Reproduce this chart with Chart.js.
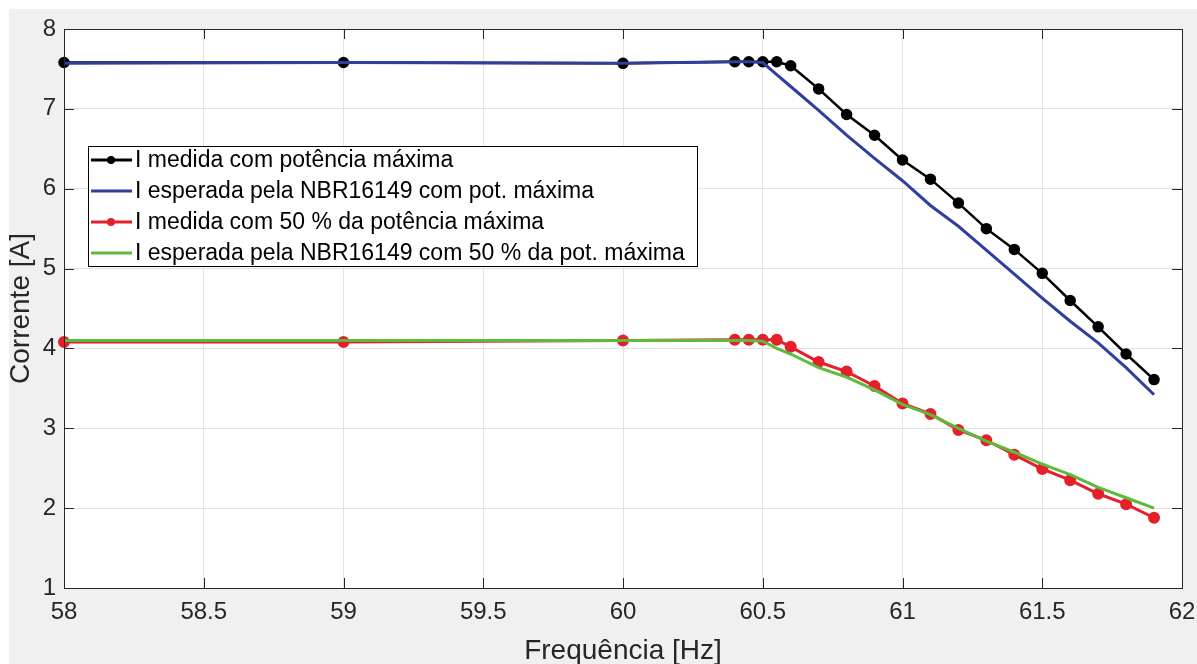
<!DOCTYPE html>
<html>
<head>
<meta charset="utf-8">
<script src="https://cdn.jsdelivr.net/npm/chart.js"></script>
<style>
  html, body { margin: 0; padding: 0; background: #fff; }
  #wrap { width: 1197px; height: 664px; position: relative; }
</style>
</head>
<body>
<div id="wrap"><canvas id="c" width="1197" height="664"></canvas></div>
<script>
// frequências medidas [Hz]
const freq = [58, 59, 60, 60.4, 60.45, 60.5, 60.55, 60.6, 60.7, 60.8, 60.9,
              61.0, 61.1, 61.2, 61.3, 61.4, 61.5, 61.6, 61.7, 61.8, 61.9];

// correntes [A]
const iMedidaMax = [7.58, 7.58, 7.57, 7.59, 7.59, 7.59, 7.59, 7.54, 7.25, 6.93, 6.67,
                    6.36, 6.12, 5.82, 5.50, 5.24, 4.94, 4.60, 4.27, 3.93, 3.61];
const iEsperadaMax = [7.57, 7.58, 7.57, 7.59, 7.59, 7.58, 7.43, 7.28, 6.98, 6.67, 6.38,
                      6.10, 5.79, 5.53, 5.23, 4.93, 4.63, 4.34, 4.07, 3.76, 3.42];
const iMedida50 = [4.08, 4.08, 4.10, 4.11, 4.11, 4.11, 4.11, 4.02, 3.83, 3.71, 3.53,
                   3.31, 3.18, 2.98, 2.85, 2.67, 2.49, 2.35, 2.18, 2.05, 1.88];
const iEsperada50 = [4.10, 4.10, 4.10, 4.10, 4.10, 4.09, 4.00, 3.93, 3.76, 3.64, 3.48,
                     3.30, 3.17, 3.00, 2.84, 2.70, 2.55, 2.42, 2.26, 2.13, 2.00];

const labels = [
    'I medida com potência máxima',
    'I esperada pela NBR16149 com pot. máxima',
    'I medida com 50 % da potência máxima',
    'I esperada pela NBR16149 com 50 % da pot. máxima'
];
const xTicks = [58, 58.5, 59, 59.5, 60, 60.5, 61, 61.5, 62];
const yTicks = [1, 2, 3, 4, 5, 6, 7, 8];

const FONT = "'Liberation Sans', Arial, Helvetica, sans-serif";
const TXT = '#262626';

function pts(ys) {
    return freq.map((f, i) => ({ x: f, y: ys[i] }));
}

// fundo cinza + área branca do gráfico
const bgPlugin = {
    id: 'bg',
    beforeDraw(chart) {
        const { ctx, width, height, chartArea: a } = chart;
        ctx.save();
        ctx.fillStyle = '#fff';
        ctx.fillRect(0, 0, width, height);
        ctx.fillStyle = '#f0f0f0';
        ctx.fillRect(9, 9, width - 9, height - 9);
        ctx.fillStyle = '#fff';
        ctx.fillRect(a.left, a.top, a.right - a.left, a.bottom - a.top);
        ctx.restore();
    }
};

// moldura com marcas para dentro (estilo MATLAB)
const framePlugin = {
    id: 'frame',
    afterDatasetsDraw(chart) {
        const { ctx, chartArea: a, scales } = chart;
        const len = 10;
        ctx.save();
        ctx.strokeStyle = TXT;
        ctx.lineWidth = 1;
        ctx.beginPath();
        xTicks.forEach(v => {
            const px = Math.round(scales.x.getPixelForValue(v)) + 0.5;
            ctx.moveTo(px, a.bottom); ctx.lineTo(px, a.bottom - len);
            ctx.moveTo(px, a.top); ctx.lineTo(px, a.top + len);
        });
        yTicks.forEach(v => {
            const py = Math.round(scales.y.getPixelForValue(v)) + 0.5;
            ctx.moveTo(a.left, py); ctx.lineTo(a.left + len, py);
            ctx.moveTo(a.right, py); ctx.lineTo(a.right - len, py);
        });
        ctx.stroke();
        ctx.strokeRect(Math.round(a.left) + 0.5, Math.round(a.top) + 0.5,
                       Math.round(a.right - a.left), Math.round(a.bottom - a.top));
        ctx.restore();
    }
};

// legenda dentro da área do gráfico
const legendPlugin = {
    id: 'boxLegend',
    afterDraw(chart) {
        const { ctx, chartArea: a } = chart;
        const x0 = a.left + 24, y0 = a.top + 117;
        const w = 609, h = 120, rowH = 31;
        ctx.save();
        ctx.fillStyle = '#fff';
        ctx.fillRect(x0, y0, w, h);
        ctx.strokeStyle = '#000';
        ctx.lineWidth = 1;
        ctx.strokeRect(x0 + 0.5, y0 + 0.5, w, h);
        ctx.font = '23px ' + FONT;
        ctx.textBaseline = 'middle';
        chart.data.datasets.forEach((ds, i) => {
            const y = y0 + 14 + i * rowH;
            ctx.strokeStyle = ds.borderColor;
            ctx.lineWidth = 3;
            ctx.beginPath();
            ctx.moveTo(x0 + 3, y);
            ctx.lineTo(x0 + 44, y);
            ctx.stroke();
            if (ds.pointRadius > 0) {
                ctx.fillStyle = ds.pointBackgroundColor;
                ctx.beginPath();
                ctx.arc(x0 + 23, y, 4, 0, Math.PI * 2);
                ctx.fill();
            }
            ctx.fillStyle = '#000';
            ctx.fillText(ds.label, x0 + 47, y + 1);
        });
        ctx.restore();
    }
};

const chart = new Chart(document.getElementById('c'), {
    type: 'line',
    data: {
        datasets: [
            {
                label: labels[0],
                data: pts(iMedidaMax),
                borderColor: '#000000',
                backgroundColor: '#000000',
                pointBackgroundColor: '#000000',
                pointBorderColor: '#000000',
                borderWidth: 2.5,
                pointRadius: 4.5,
                order: 4
            },
            {
                label: labels[1],
                data: pts(iEsperadaMax),
                borderColor: '#2e3f9e',
                backgroundColor: '#2e3f9e',
                borderWidth: 3,
                pointRadius: 0,
                order: 3
            },
            {
                label: labels[2],
                data: pts(iMedida50),
                borderColor: '#e5202a',
                backgroundColor: '#e5202a',
                pointBackgroundColor: '#e5202a',
                pointBorderColor: '#e5202a',
                borderWidth: 3,
                pointRadius: 4.5,
                order: 2
            },
            {
                label: labels[3],
                data: pts(iEsperada50),
                borderColor: '#5cba3c',
                backgroundColor: '#5cba3c',
                borderWidth: 3,
                pointRadius: 0,
                order: 1
            }
        ]
    },
    options: {
        responsive: false,
        maintainAspectRatio: false,
        animation: false,
        devicePixelRatio: 1,
        layout: { padding: { left: 0, top: 29, right: 15, bottom: 0 } },
        elements: { line: { tension: 0 } },
        datasets: { line: { clip: 8 } },
        plugins: {
            legend: { display: false },
            tooltip: { enabled: false }
        },
        scales: {
            x: {
                type: 'linear',
                min: 58,
                max: 62,
                afterBuildTicks: s => { s.ticks = xTicks.map(v => ({ value: v })); },
                afterFit: s => { s.height = 76; s.paddingLeft = 0; s.paddingRight = 0; },
                grid: { color: '#e3e3e3', drawTicks: false },
                border: { display: false },
                ticks: {
                    autoSkip: false,
                    maxRotation: 0,
                    padding: 10,
                    color: TXT,
                    font: { family: FONT, size: 24 },
                    callback: v => String(v)
                },
                title: {
                    display: true,
                    text: 'Frequência [Hz]',
                    color: TXT,
                    padding: { top: 0, bottom: 0 },
                    font: { family: FONT, size: 28, lineHeight: 0.9 }
                }
            },
            y: {
                min: 1,
                max: 8,
                afterBuildTicks: s => { s.ticks = yTicks.map(v => ({ value: v })); },
                afterFit: s => { s.width = 64; s.paddingTop = 0; s.paddingBottom = 0; },
                grid: { color: '#e3e3e3', drawTicks: false },
                border: { display: false },
                ticks: {
                    padding: 8,
                    color: TXT,
                    font: { family: FONT, size: 24 },
                    callback: v => String(v)
                },
                title: {
                    display: true,
                    text: 'Corrente [A]',
                    color: TXT,
                    padding: { top: 9, bottom: 0 },
                    font: { family: FONT, size: 28, lineHeight: 0.9 }
                }
            }
        }
    },
    plugins: [bgPlugin, framePlugin, legendPlugin]
});
</script>
</body>
</html>
